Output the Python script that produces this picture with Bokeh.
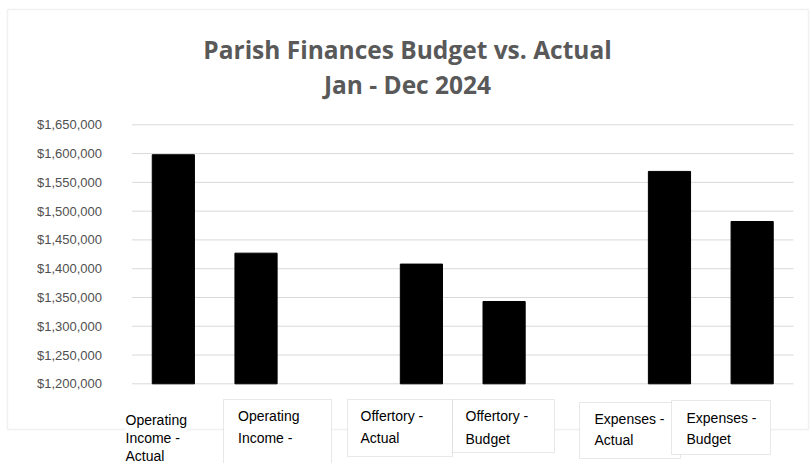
from bokeh.plotting import figure
from bokeh.models import Range1d, Label, BoxAnnotation, ColumnDataSource
from bokeh.core.properties import value
from bokeh.embed import file_html
from bokeh.resources import INLINE

# ---- data ----
title_line1 = "Parish Finances Budget vs. Actual"
title_line2 = "Jan - Dec 2024"
categories = ["Operating Income - Actual", "Operating Income - Budget",
              "Offertory - Actual", "Offertory - Budget",
              "Expenses - Actual", "Expenses - Budget"]
values = [1598000, 1427000, 1408000, 1343000, 1569000, 1482000]
y_ticks = [1200000, 1250000, 1300000, 1350000, 1400000, 1450000,
           1500000, 1550000, 1600000, 1650000]
tick_labels = ["${:,}".format(t) for t in y_ticks]

# ---- layout (pixels) ----
W, H = 812, 463
plot_left, plot_right = 131.5, 793.0
plot_top, plot_bottom = 124.3, 383.3

# category slots: an empty slot after each Actual/Budget pair
slots = []
for i, c in enumerate(categories):
    slots.append(c)
    if i % 2 == 1 and i < len(categories) - 1:
        slots.append(None)
n_slots = len(slots)
bar_x = [i + 0.5 for i, s in enumerate(slots) if s is not None]

slot_px = (plot_right - plot_left) / n_slots
x_range = Range1d(-plot_left / slot_px, (W - plot_left) / slot_px)
unit_px = (plot_bottom - plot_top) / (y_ticks[-1] - y_ticks[0])
y_range = Range1d(y_ticks[0] - (H - plot_bottom) / unit_px,
                  y_ticks[-1] + plot_top / unit_px)

p = figure(width=W, height=H, x_range=x_range, y_range=y_range,
           output_backend="svg", toolbar_location=None, title=None,
           x_axis_location=None, y_axis_location=None, min_border=0)
p.grid.visible = False
p.outline_line_color = None
p.background_fill_color = "white"
p.border_fill_color = "white"

# horizontal gridlines
p.segment(x0=0, x1=n_slots, y0=y_ticks, y1=y_ticks, line_color="#d9d9d9", line_width=1)

# bars
src = ColumnDataSource(dict(x=bar_x, top=values, name=categories))
p.vbar(x="x", top="top", bottom=y_ticks[0], width=0.51, source=src,
       fill_color="black", line_color="black")

# value-axis tick labels
p.text(x=0, y=y_ticks, text=tick_labels, x_offset=-30, text_align="right",
       text_baseline="middle", text_font=value("Liberation Sans"),
       text_font_size="13px", text_color="#505050")

# outer chart border
p.add_layout(BoxAnnotation(left=7, right=808, top=9, bottom=429,
                           left_units="canvas", right_units="canvas",
                           top_units="canvas", bottom_units="canvas",
                           fill_color=None, line_color="#d0d0d0", line_width=1.5))

# title
for txt, yc in [(title_line1, 48.5), (title_line2, 83.5)]:
    p.add_layout(Label(x=407, y=yc, x_units="canvas", y_units="canvas", text=txt,
                       text_align="center", text_baseline="middle",
                       text_font="Open Sans", text_font_style="bold",
                       text_font_size="24.5px", text_color="#595959"))


def wrap(s, n=11):
    lines, cur = [], ""
    for w in s.split():
        if cur and len(cur) + 1 + len(w) > n:
            lines.append(cur)
            cur = w
        else:
            cur = (cur + " " + w) if cur else w
    lines.append(cur)
    return lines

# category label boxes (left, top, right, bottom) and text anchors (left, top)
boxes = [None, (223, 399, 331, 480), (347, 399, 452, 456), (452, 399, 554, 452),
         (579, 402, 680, 458), (671, 400, 770, 454)]
text_pos = [(125, 411), (237.5, 407.3), (360, 407.3), (465, 407.3), (594, 410.6), (686, 409)]
line_heights = [1.13, 1.39, 1.39, 1.42, 1.28, 1.32]
max_lines = [3, 2, 2, 2, 2, 2]

for i, cat in enumerate(categories):
    b = boxes[i]
    if b is not None:
        p.add_layout(BoxAnnotation(left=b[0], top=b[1], right=b[2], bottom=b[3],
                                   left_units="canvas", right_units="canvas",
                                   top_units="canvas", bottom_units="canvas",
                                   fill_color="white", fill_alpha=1.0,
                                   line_color="#b4b4b4", line_width=1))
    tx, ty = text_pos[i]
    lab = Label(x=tx, y=ty, x_units="canvas", y_units="canvas",
                text="\n".join(wrap(cat)[:max_lines[i]]),
                text_align="left", text_baseline="top",
                text_font="Liberation Sans", text_font_size="14px",
                text_line_height=line_heights[i], text_color="black")
    if b is None:
        lab.background_fill_color = "white"
    p.add_layout(lab)

open("out.html", "w").write(file_html(p, INLINE))
